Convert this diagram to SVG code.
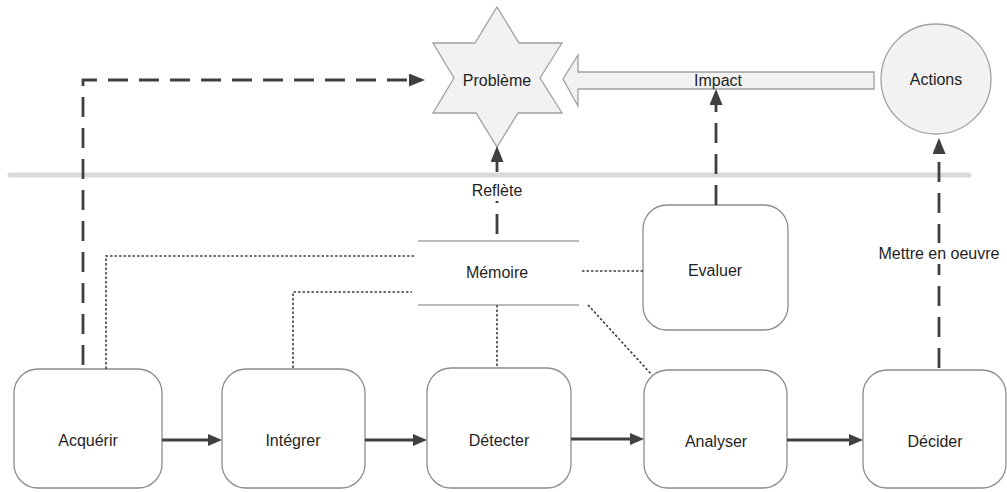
<svg xmlns="http://www.w3.org/2000/svg" width="1007" height="492" viewBox="0 0 1007 492">
<defs>
<style>
text{font-family:"Liberation Sans",Arial,sans-serif;font-size:16px;fill:#1f1f1f;text-anchor:middle}
.box{fill:#fff;stroke:#8c8c8c;stroke-width:1.3}
.shape{fill:#f2f2f2;stroke:#a0a0a0;stroke-width:1.3}
.dash{fill:none;stroke:#404040;stroke-width:2.8;stroke-dasharray:20 11}
.solid{fill:none;stroke:#404040;stroke-width:3}
.dot{fill:none;stroke:#404040;stroke-width:1.6;stroke-dasharray:2.5 2}
.mem{stroke:#a6a6a6;stroke-width:1.6}
.bg{fill:#fff}
</style>
<marker id="ah" markerUnits="userSpaceOnUse" markerWidth="17" markerHeight="14" refX="0" refY="6.5" orient="auto">
<path d="M0,0 L16,6.5 L0,13 z" fill="#404040"/>
</marker>
<marker id="as" markerUnits="userSpaceOnUse" markerWidth="15" markerHeight="13" refX="0" refY="6" orient="auto">
<path d="M0,0 L14,6 L0,12 z" fill="#404040"/>
</marker>
</defs>
<rect width="1007" height="492" fill="#fff"/>
<g id="separator">
<line x1="10" y1="175" x2="969" y2="175" stroke="#d9d9d9" stroke-width="5" stroke-linecap="round"/>
</g>
<g id="probleme">
<polygon class="shape" points="497,7 519,43 562,43 540,78 562,113 518,113 497,147 476,113 433,113 454,78 433,43 475,43"/>
<text x="497" y="86">Problème</text>
</g>
<g id="impact">
<polygon class="shape" points="563,79 578,55 578,72 874,72 874,89 578,89 578,106"/>
<text x="718" y="86">Impact</text>
</g>
<g id="actions">
<circle class="shape" cx="936" cy="79" r="55"/>
<text x="936" y="85">Actions</text>
</g>
<g id="memoire">
<line class="mem" x1="418" y1="241" x2="579" y2="241"/>
<line class="mem" x1="418" y1="305" x2="579" y2="305"/>
<text x="497" y="278">Mémoire</text>
</g>
<g id="evaluer">
<rect class="box" x="643" y="205" width="145" height="125" rx="24"/>
<text x="715" y="276">Evaluer</text>
</g>
<g id="acquerir">
<rect class="box" x="14" y="369" width="148" height="119" rx="24"/>
<text x="88" y="446">Acquérir</text>
</g>
<g id="integrer">
<rect class="box" x="222" y="369" width="143" height="119" rx="24"/>
<text x="293" y="446">Intégrer</text>
</g>
<g id="detecter">
<rect class="box" x="427" y="368" width="144" height="120" rx="24"/>
<text x="499" y="446">Détecter</text>
</g>
<g id="analyser">
<rect class="box" x="644" y="370" width="143" height="118" rx="24"/>
<text x="716" y="447">Analyser</text>
</g>
<g id="decider">
<rect class="box" x="863" y="370" width="143" height="118" rx="24"/>
<text x="935" y="447">Décider</text>
</g>
<g id="connectors">
<path class="dash" d="M83,365 V80 H409" marker-end="url(#ah)"/>
<path class="dash" d="M497,241 V162" stroke-dashoffset="24" marker-end="url(#ah)"/>
<path class="dash" d="M716,205 V105" marker-end="url(#ah)"/>
<path class="dash" d="M939,368 V154" marker-end="url(#ah)"/>
<path class="solid" d="M162,440 H208" marker-end="url(#as)"/>
<path class="solid" d="M365,440 H413" marker-end="url(#as)"/>
<path class="solid" d="M571,439 H630" marker-end="url(#as)"/>
<path class="solid" d="M787,440 H849" marker-end="url(#as)"/>
<path class="dot" d="M106,369 V256 H415"/>
<path class="dot" d="M293,368 V292 H412"/>
<path class="dot" d="M497,305 V368"/>
<path class="dot" d="M582,271 H643"/>
<path class="dot" d="M588,305 L652,375"/>
<rect class="bg" x="468" y="181" width="58" height="20"/>
<text x="497" y="196">Reflète</text>
<rect class="bg" x="873" y="243" width="132" height="21"/>
<text x="939" y="259">Mettre en oeuvre</text>
</g>
</svg>
